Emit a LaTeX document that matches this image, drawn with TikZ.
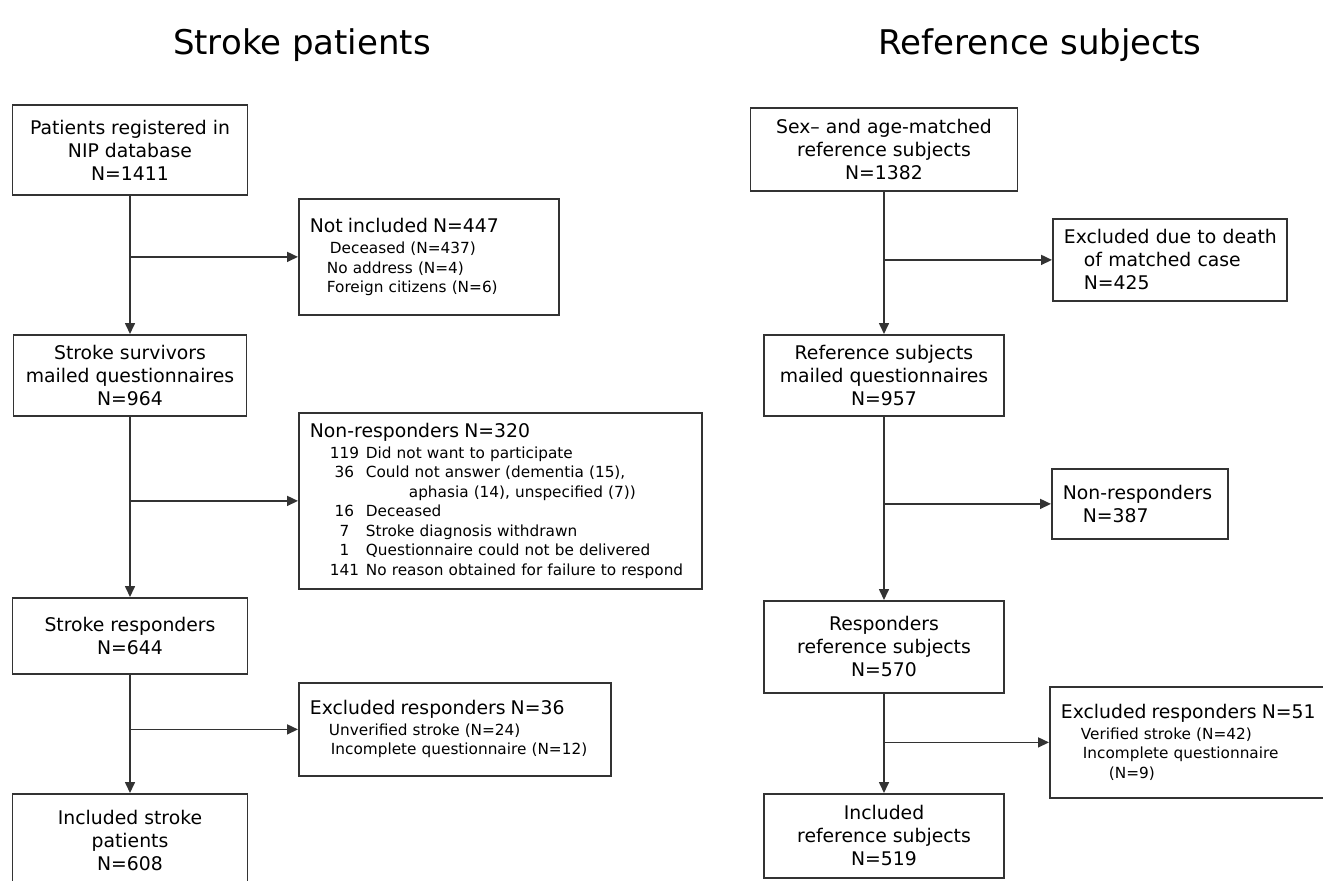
\documentclass[tikz,border=0pt]{standalone}
\usepackage{fontspec}
\setmainfont{DejaVu Sans}
\usepackage{tikz}
\usetikzlibrary{arrows.meta,positioning}
\newcommand{\mainfont}{\fontsize{18.8}{23}\selectfont}
\newcommand{\subfont}{\fontsize{15.3}{19.5}\selectfont}
\newcommand{\nritem}[2]{\hspace*{20pt}\makebox[29pt]{#1}\hspace{7pt}#2}
\tikzset{flow/.style={draw=black!80,line width=1.8pt,font=\mainfont,align=center,inner sep=0pt,anchor=north},
         side/.style={flow,align=left,inner xsep=11pt,anchor=north west,font=\subfont},
         link/.style={draw=black!80,line width=1.6pt},
         title/.style={font=\fontsize{34}{40}\selectfont}}

\begin{document}
\begin{tikzpicture}[x=1pt,y=-1pt,>={Triangle[length=11pt,width=10pt]}]
    \useasboundingbox (0,0) rectangle (1323,881);
    \node[title] (ltitle)at (302,45) {Stroke patients};
    \node[title] (rtitle)at (1040,45) {Reference subjects};

    % stroke patients
    \node[flow,minimum width=235,minimum height=90] (reg)at (130,104) {Patients registered in\\NIP database\\N=1411};
    \node[side,minimum width=260,minimum height=116,text width=238] (notinc)at (298,198) {{\mainfont Not included N=447}\\[2pt]
        \hspace*{20pt}Deceased (N=437)\\\hspace*{17pt}No address (N=4)\\\hspace*{17pt}Foreign citizens (N=6)};
    \node[flow,minimum width=233,minimum height=81] (mail)at (130,334) {Stroke survivors\\mailed questionnaires\\N=964};
    \node[side,minimum width=403,minimum height=176,text width=381] (nonresp)at (298,412) {{\mainfont Non-responders N=320}\\[1pt]
        \nritem{119}{Did not want to participate}\\
        \nritem{36}{Could not answer (dementia (15),}\\
        \nritem{}{\hspace*{43pt}aphasia (14), unspecified (7))}\\
        \nritem{16}{Deceased}\\
        \nritem{7}{Stroke diagnosis withdrawn}\\
        \nritem{1}{Questionnaire could not be delivered}\\
        \nritem{141}{No reason obtained for failure to respond}};
    \node[flow,minimum width=235,minimum height=76] (resp)at (130,597) {Stroke responders\\N=644};
    \node[side,minimum width=312,minimum height=93,text width=290] (exresp)at (298,682) {{\mainfont Excluded responders N=36}\\[1pt]
        \hspace*{19pt}Unverified stroke (N=24)\\\hspace*{21pt}Incomplete questionnaire (N=12)};
    \node[flow,minimum width=235,minimum height=94] (incl)at (130,793) {Included stroke\\patients\\N=608};

    % reference subjects
    \node[flow,minimum width=267,minimum height=83] (match)at (884,107) {Sex-- and age-matched\\reference subjects\\N=1382};
    \node[side,font=\mainfont,minimum width=234,minimum height=82,text width=212] (exdeath)at (1052,218) {\mbox{Excluded due to death}\\
        \hspace*{20pt}of matched case\\\hspace*{20pt}N=425};
    \node[flow,minimum width=240,minimum height=81] (rmail)at (884,334) {Reference subjects\\mailed questionnaires\\N=957};
    \node[side,font=\mainfont,minimum width=176,minimum height=70,text width=154] (rnonresp)at (1051,468) {Non-responders\\
        \hspace*{20pt}N=387};
    \node[flow,minimum width=240,minimum height=92] (rresp)at (884,600) {Responders\\reference subjects\\N=570};
    \node[side,minimum width=290,minimum height=111,text width=268] (rexresp)at (1049,686) {{\mainfont Excluded responders N=51}\\[1pt]
        \hspace*{20pt}Verified stroke (N=42)\\\hspace*{22pt}Incomplete questionnaire\\\hspace*{48pt}(N=9)};
    \node[flow,minimum width=240,minimum height=84] (rincl)at (884,793) {Included\\reference subjects\\N=519};

    \draw[link,->] (reg) -- (mail);
    \draw[link,->] (reg |- notinc.west) -- (notinc.west);
    \draw[link,->] (mail) -- (resp);
    \draw[link,->] (mail |- nonresp.west) -- (nonresp.west);
    \draw[link,->] (resp) -- (incl);
    \draw[link,->] (resp |- exresp.west) -- (exresp.west);

    \draw[link,->] (match) -- (rmail);
    \draw[link,->] (match |- exdeath.west) -- (exdeath.west);
    \draw[link,->] (rmail) -- (rresp);
    \draw[link,->] (rmail |- rnonresp.west) -- (rnonresp.west);
    \draw[link,->] (rresp) -- (rincl);
    \draw[link,->] (rresp |- rexresp.west) -- (rexresp.west);
\end{tikzpicture}
\end{document}
